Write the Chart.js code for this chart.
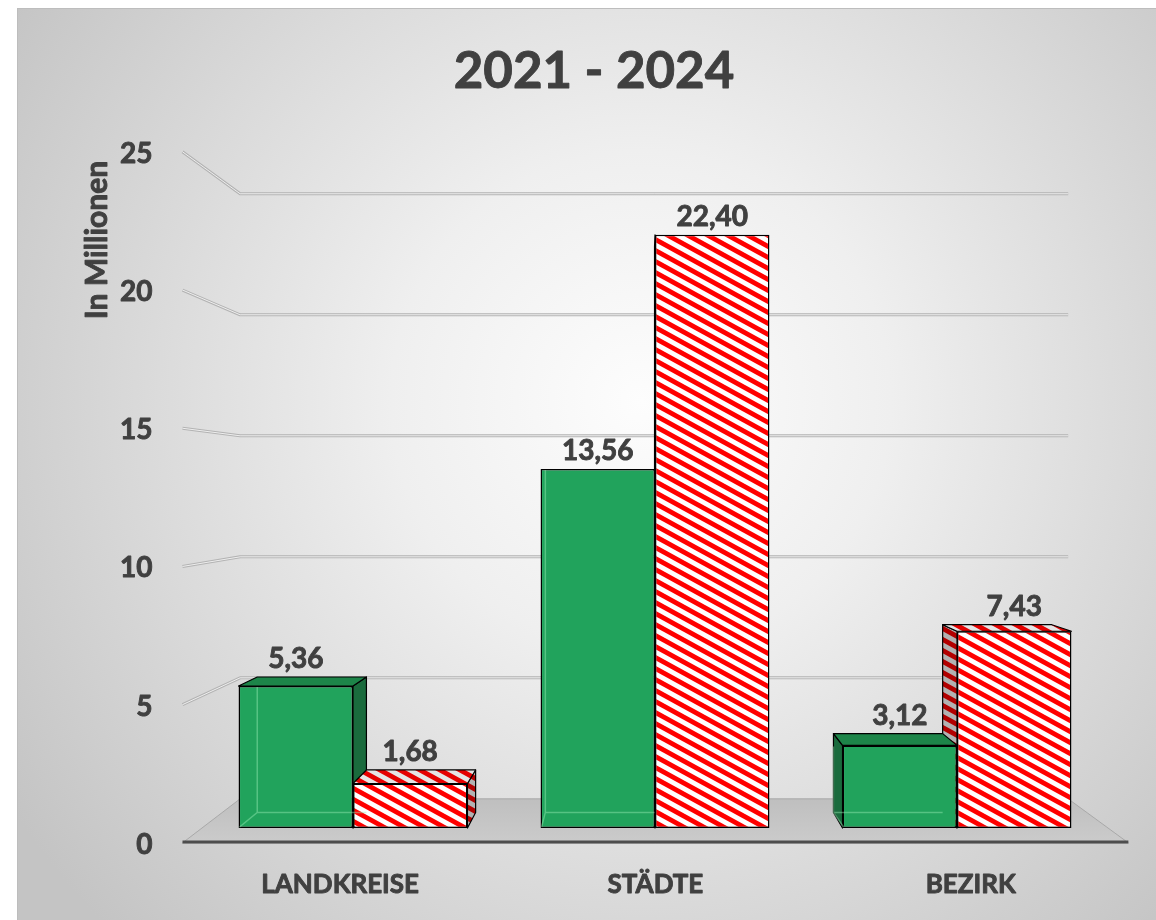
<!DOCTYPE html>
<html lang="de">
<head>
  <meta charset="UTF-8" />
  <title>2021 - 2024</title>
  <script src="https://cdn.jsdelivr.net/npm/chart.js"></script>
  <style>
    html, body { margin: 0; padding: 0; background: #fff; overflow: hidden; }
    .frame {
      position: absolute; left: 17px; top: 8px; width: 1160px; height: 930px;
      border: 1px solid #bdbdbd;
      background: radial-gradient(circle at 623px 392px, #fdfdfd 0px, #efefef 250px, #c4c4c4 750px);
    }
    .wrap { position: absolute; left: 0; top: 0; width: 1156px; height: 920px; }
  </style>
</head>
<body>
  <div class="frame"></div>
  <div class="wrap"><canvas id="chart" width="1156" height="920"></canvas></div>

  <script>
    const categories = ['LANDKREISE', 'STÄDTE', 'BEZIRK'];
    const values2021 = [5.36, 13.56, 3.12];
    const values2024 = [1.68, 22.40, 7.43];
    const yTicks = [0, 5, 10, 15, 20, 25];

    const FONT = 'Lato, "Open Sans", sans-serif';
    const TEXT = '#404040';

    // perspective of the 3D box: vanishing point and depth factors
    const VP = { x: 645, y: 489 };
    const DEPTH = { front: 1.044, back: 0.914, barBack: 0.954 };

    function proj(x, y, s) {
      return [VP.x + (x - VP.x) * s, VP.y + (y - VP.y) * s];
    }

    function poly(ctx, pts, fill, stroke, lw) {
      ctx.beginPath();
      ctx.moveTo(pts[0][0], pts[0][1]);
      for (let i = 1; i < pts.length; i++) ctx.lineTo(pts[i][0], pts[i][1]);
      ctx.closePath();
      if (fill) { ctx.fillStyle = fill; ctx.fill(); }
      if (stroke) { ctx.strokeStyle = stroke; ctx.lineWidth = lw || 1; ctx.stroke(); }
    }

    // heavy text: fill plus a thin outline in the same colour
    function heavyText(ctx, str, x, y, size) {
      ctx.font = 'bold ' + size + 'px ' + FONT;
      ctx.fillStyle = TEXT;
      ctx.strokeStyle = TEXT;
      ctx.lineWidth = 0.9;
      ctx.lineJoin = 'round';
      ctx.fillText(str, x, y);
      ctx.strokeText(str, x, y);
    }

    // red/white diagonal stripes, optionally darkened for side and top faces
    function stripes(shade) {
      const c = document.createElement('canvas');
      c.width = 20; c.height = 11;
      const g = c.getContext('2d');
      g.fillStyle = '#fff';
      g.fillRect(0, 0, 20, 11);
      g.strokeStyle = '#ff0000';
      g.lineWidth = 4.8;
      [-11, 0, 11].forEach(k => {
        g.beginPath();
        g.moveTo(-2, k - 1.1);
        g.lineTo(22, k + 12.1);
        g.stroke();
      });
      if (shade) {
        g.fillStyle = 'rgba(0,0,0,' + shade + ')';
        g.fillRect(0, 0, 20, 11);
      }
      return document.getElementById('chart').getContext('2d').createPattern(c, 'repeat');
    }

    const styles = [
      { front: '#21a35c', side: '#1a6b3d', top: '#1d8549', edge: 'rgba(150,235,180,0.45)' },
      { front: stripes(0), side: stripes(0.3), top: stripes(0.1) }
    ];

    const fmt = v => v.toFixed(2).replace('.', ',');

    const box3d = {
      id: 'box3d',
      beforeDatasetsDraw(chart) {
        const { ctx, chartArea: a, scales: { y } } = chart;
        const y0 = y.getPixelForValue(0);
        ctx.save();

        // floor
        const fl = [proj(a.left, y0, DEPTH.front), proj(a.right, y0, DEPTH.front),
                    proj(a.right, y0, DEPTH.back), proj(a.left, y0, DEPTH.back)];
        const fg = ctx.createLinearGradient(0, fl[2][1], 0, fl[0][1]);
        fg.addColorStop(0, '#bfbfbf');
        fg.addColorStop(1, '#cbcbcb');
        poly(ctx, fl, fg, '#a8a8a8', 1);

        // front edge of the floor
        ctx.beginPath();
        ctx.moveTo(fl[0][0], fl[0][1] - 1);
        ctx.lineTo(fl[1][0], fl[1][1] - 1);
        ctx.strokeStyle = '#4d4d4d';
        ctx.lineWidth = 3;
        ctx.stroke();

        // gridlines: side wall diagonal, then across the back wall
        yTicks.forEach(v => {
          if (v === 0) return;
          const py = y.getPixelForValue(v);
          const p1 = proj(a.left, py, DEPTH.front);
          const p2 = proj(a.left, py, DEPTH.back);
          const p3 = proj(a.right, py, DEPTH.back);
          [['#b3b3b3', 3], ['#eeeeee', 1]].forEach(([c, w]) => {
            ctx.beginPath();
            ctx.moveTo(p1[0], p1[1]);
            ctx.lineTo(p2[0], p2[1]);
            ctx.lineTo(p3[0], p3[1]);
            ctx.strokeStyle = c;
            ctx.lineWidth = w;
            ctx.lineJoin = 'round';
            ctx.stroke();
          });
        });

        // side and top faces, taller bar first in each group
        categories.forEach((_, i) => {
          chart.data.datasets
            .map((ds, d) => ({ d, v: ds.data[i], el: chart.getDatasetMeta(d).data[i] }))
            .sort((p, q) => q.v - p.v)
            .forEach(({ d, el }) => {
              const { x, y: top, base, width } = el.getProps(['x', 'y', 'base', 'width'], true);
              const l = x - width / 2, r = x + width / 2, s = DEPTH.barBack;
              const st = styles[d];
              if (r < VP.x) {
                poly(ctx, [[r, top], proj(r, top, s), proj(r, base, s), [r, base]], st.side, '#000', 1.2);
              }
              if (l > VP.x) {
                poly(ctx, [[l, top], proj(l, top, s), proj(l, base, s), [l, base]], st.side, '#000', 1.2);
              }
              if (top > VP.y) {
                poly(ctx, [[l, top], [r, top], proj(r, top, s), proj(l, top, s)], st.top, '#000', 1.2);
              }
            });
        });
        ctx.restore();
      },

      afterDatasetsDraw(chart) {
        const { ctx } = chart;
        ctx.save();
        chart.data.datasets.forEach((ds, d) => {
          chart.getDatasetMeta(d).data.forEach((el, i) => {
            const { x, y: top, base, width } = el.getProps(['x', 'y', 'base', 'width'], true);
            const l = x - width / 2, r = x + width / 2, s = DEPTH.barBack;

            // back edges seen through the translucent green bars
            if (styles[d].edge) {
              const bl = proj(l, base, s), br = proj(r, base, s), tl = proj(l, top, s);
              ctx.beginPath();
              ctx.moveTo(l + 1, base - 1);
              ctx.lineTo(bl[0], bl[1]);
              ctx.lineTo(br[0], br[1]);
              ctx.moveTo(bl[0], bl[1]);
              ctx.lineTo(tl[0], Math.max(tl[1], top + 1));
              ctx.strokeStyle = styles[d].edge;
              ctx.lineWidth = 1.5;
              ctx.stroke();
            }

            // value label above the box
            const backTop = proj(x, top, s)[1];
            ctx.textAlign = 'center';
            ctx.textBaseline = 'alphabetic';
            heavyText(ctx, fmt(ds.data[i]), x, Math.min(top, backTop) - 9, 28);
          });
        });
        ctx.restore();
      },

      afterDraw(chart) {
        const { ctx, chartArea: a, scales: { x, y } } = chart;
        ctx.save();

        // value axis labels on the front plane
        ctx.textAlign = 'right';
        ctx.textBaseline = 'middle';
        yTicks.forEach(v => {
          const p = proj(a.left, y.getPixelForValue(v), DEPTH.front);
          heavyText(ctx, String(v), p[0] - 30, p[1] + 2, 28);
        });

        // category labels under the floor
        ctx.textAlign = 'center';
        ctx.textBaseline = 'alphabetic';
        const yFront = proj(0, y.getPixelForValue(0), DEPTH.front)[1];
        categories.forEach((c, i) => {
          heavyText(ctx, c, proj(x.getPixelForValue(i), 0, DEPTH.front)[0], yFront + 50, 26);
        });

        // axis title
        ctx.save();
        ctx.translate(107, 240);
        ctx.rotate(-Math.PI / 2);
        heavyText(ctx, 'In Millionen', 0, 0, 30);
        ctx.restore();

        // chart title
        heavyText(ctx, '2021 - 2024', 594, 88, 51);
        ctx.restore();
      }
    };

    new Chart(document.getElementById('chart'), {
      type: 'bar',
      data: {
        labels: categories,
        datasets: [
          {
            label: '2021',
            data: values2021,
            backgroundColor: styles[0].front,
            borderColor: '#000',
            borderWidth: 1.5,
            borderSkipped: false
          },
          {
            label: '2024',
            data: values2024,
            backgroundColor: styles[1].front,
            borderColor: '#000',
            borderWidth: 1.5,
            borderSkipped: false
          }
        ]
      },
      options: {
        responsive: false,
        animation: false,
        events: [],
        layout: { padding: { left: 202, right: 48, top: 166, bottom: 92 } },
        categoryPercentage: 0.758,
        barPercentage: 1,
        scales: {
          x: { display: false },
          y: { display: false, min: 0, max: 25 }
        },
        plugins: {
          legend: { display: false },
          title: { display: false },
          tooltip: { enabled: false }
        }
      },
      plugins: [box3d]
    });
  </script>
</body>
</html>
